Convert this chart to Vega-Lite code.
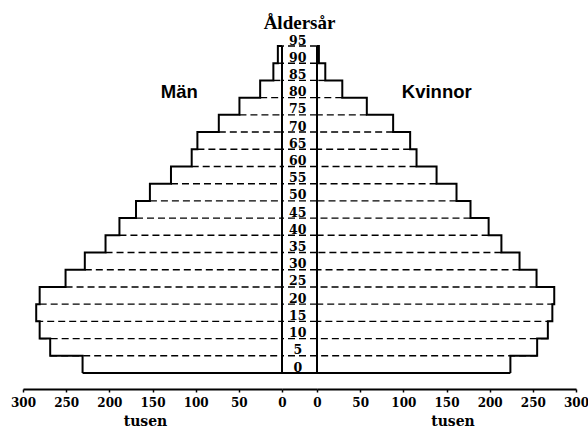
{
  "$schema": "https://vega.github.io/schema/vega-lite/v6.json",
  "padding": {"left": 10, "top": 13, "right": 2, "bottom": 2},
  "background": "white",
  "config": {"view": {"stroke": null}},
  "bounds": "flush",
  "spacing": 0,
  "datasets": {
    "pyramid": [
      {"age": 0, "man": 231, "kvinna": 224},
      {"age": 5, "man": 268.5, "kvinna": 255},
      {"age": 10, "man": 280.7, "kvinna": 267.4},
      {"age": 15, "man": 284.7, "kvinna": 272.6},
      {"age": 20, "man": 280.7, "kvinna": 274.8},
      {"age": 25, "man": 250.7, "kvinna": 254.3},
      {"age": 30, "man": 228.4, "kvinna": 234.6},
      {"age": 35, "man": 204.4, "kvinna": 213.6},
      {"age": 40, "man": 188.3, "kvinna": 198.8},
      {"age": 45, "man": 169.1, "kvinna": 177.8},
      {"age": 50, "man": 153, "kvinna": 161.6},
      {"age": 55, "man": 128.6, "kvinna": 138.5},
      {"age": 60, "man": 104.6, "kvinna": 115.3},
      {"age": 65, "man": 98, "kvinna": 107.9},
      {"age": 70, "man": 73.2, "kvinna": 88.2},
      {"age": 75, "man": 49.3, "kvinna": 57.7},
      {"age": 80, "man": 25.3, "kvinna": 29.3},
      {"age": 85, "man": 10, "kvinna": 9.6},
      {"age": 90, "man": 4.8, "kvinna": 2.2},
      {"age": 95, "man": 0, "kvinna": 0}
    ]
  },
  "hconcat": [
    {
      "width": 259,
      "height": 327,
      "layer": [
        {
          "data": {"name": "pyramid"},
          "transform": [{"filter": "datum.age > 0"}],
          "mark": {"type": "rule", "strokeDash": [7, 4], "strokeWidth": 1.4, "color": "black"},
          "encoding": {
            "y": {"field": "age", "type": "quantitative", "scale": {"domain": [0, 95], "nice": false}, "axis": null},
            "x": {"field": "man", "type": "quantitative", "scale": {"domain": [0, 300], "reverse": true, "nice": false},
              "axis": {"values": [0, 50, 100, 150, 200, 250, 300], "format": "d", "offset": 16, "tickSize": 3, "tickWidth": 1.5, "tickColor": "black",
                "domainColor": "black", "domainWidth": 2, "grid": false, "labelFlush": false, "labelOverlap": false,
                "labelFont": "DejaVu Serif", "labelFontWeight": "bold", "labelFontSize": 12, "labelColor": "black", "labelPadding": 5,
                "title": "tusen", "titleFont": "DejaVu Serif", "titleFontWeight": "bold", "titleFontSize": 14, "titleColor": "black", "titlePadding": 6, "titleX": 122}},
            "x2": {"datum": 0}
          }
        },
        {
          "data": {"name": "pyramid"},
          "transform": [{"filter": "datum.age == 0"}],
          "mark": {"type": "rule", "strokeWidth": 2, "color": "black"},
          "encoding": {
            "y": {"field": "age", "type": "quantitative"},
            "x": {"field": "man", "type": "quantitative"},
            "x2": {"datum": 0}
          }
        },
        {
          "data": {"name": "pyramid"},
          "mark": {"type": "line", "interpolate": "step-before", "strokeWidth": 2, "color": "black"},
          "encoding": {
            "x": {"field": "man", "type": "quantitative"},
            "y": {"field": "age", "type": "quantitative"},
            "order": {"field": "age", "type": "quantitative"}
          }
        },
        {
          "data": {"values": [{"a0": 0, "a1": 95}]},
          "mark": {"type": "rule", "strokeWidth": 2, "color": "black"},
          "encoding": {
            "x": {"datum": 0, "type": "quantitative"},
            "y": {"field": "a0", "type": "quantitative"},
            "y2": {"field": "a1"}
          }
        },
        {
          "data": {"values": [{"label": "Män", "x": 119, "age": 80}]},
          "mark": {"type": "text", "font": "Liberation Sans", "fontWeight": "bold", "fontSize": 18.5, "baseline": "alphabetic", "align": "center", "color": "black"},
          "encoding": {
            "x": {"field": "x", "type": "quantitative"},
            "y": {"field": "age", "type": "quantitative"},
            "text": {"field": "label"}
          }
        }
      ]
    },
    {
      "width": 35,
      "height": 327,
      "layer": [
        {
          "data": {"name": "pyramid"},
          "transform": [{"filter": "datum.age > 0"}],
          "mark": {"type": "rule", "strokeDash": [7, 4], "strokeWidth": 1.4, "color": "black"},
          "encoding": {
            "y": {"field": "age", "type": "quantitative", "scale": {"domain": [0, 95], "nice": false}, "axis": null}
          }
        },
        {
          "data": {"name": "pyramid"},
          "transform": [{"filter": "datum.age == 0"}],
          "mark": {"type": "rule", "strokeWidth": 2, "color": "black"},
          "encoding": {
            "y": {"field": "age", "type": "quantitative"}
          }
        },
        {
          "data": {"name": "pyramid"},
          "mark": {"type": "text", "font": "DejaVu Serif", "fontWeight": "bold", "fontSize": 12.5, "baseline": "alphabetic", "align": "center", "dy": -1.5, "color": "black"},
          "encoding": {
            "x": {"datum": 0.45, "type": "quantitative", "scale": {"domain": [0, 1], "nice": false},
              "axis": {"ticks": false, "labels": false, "title": null, "offset": 16, "domainColor": "black", "domainWidth": 2, "grid": false}},
            "y": {"field": "age", "type": "quantitative"},
            "text": {"field": "age", "type": "quantitative", "format": "d"}
          }
        },
        {
          "data": {"values": [{"label": "Åldersår", "age": 100}]},
          "mark": {"type": "text", "font": "Liberation Serif", "fontSize": 19, "fontWeight": "bold", "baseline": "alphabetic", "align": "center", "color": "black"},
          "encoding": {
            "x": {"datum": 0.5, "type": "quantitative"},
            "y": {"field": "age", "type": "quantitative"},
            "text": {"field": "label"}
          }
        }
      ]
    },
    {
      "width": 259,
      "height": 327,
      "layer": [
        {
          "data": {"name": "pyramid"},
          "transform": [{"filter": "datum.age > 0"}],
          "mark": {"type": "rule", "strokeDash": [7, 4], "strokeWidth": 1.4, "color": "black"},
          "encoding": {
            "y": {"field": "age", "type": "quantitative", "scale": {"domain": [0, 95], "nice": false}, "axis": null},
            "x": {"field": "kvinna", "type": "quantitative", "scale": {"domain": [0, 300], "nice": false},
              "axis": {"values": [0, 50, 100, 150, 200, 250, 300], "format": "d", "offset": 16, "tickSize": 3, "tickWidth": 1.5, "tickColor": "black",
                "domainColor": "black", "domainWidth": 2, "grid": false, "labelFlush": false, "labelOverlap": false,
                "labelFont": "DejaVu Serif", "labelFontWeight": "bold", "labelFontSize": 12, "labelColor": "black", "labelPadding": 5,
                "title": "tusen", "titleFont": "DejaVu Serif", "titleFontWeight": "bold", "titleFontSize": 14, "titleColor": "black", "titlePadding": 6, "titleX": 135.5}},
            "x2": {"datum": 0}
          }
        },
        {
          "data": {"name": "pyramid"},
          "transform": [{"filter": "datum.age == 0"}],
          "mark": {"type": "rule", "strokeWidth": 2, "color": "black"},
          "encoding": {
            "y": {"field": "age", "type": "quantitative"},
            "x": {"field": "kvinna", "type": "quantitative"},
            "x2": {"datum": 0}
          }
        },
        {
          "data": {"name": "pyramid"},
          "mark": {"type": "line", "interpolate": "step-before", "strokeWidth": 2, "color": "black"},
          "encoding": {
            "x": {"field": "kvinna", "type": "quantitative"},
            "y": {"field": "age", "type": "quantitative"},
            "order": {"field": "age", "type": "quantitative"}
          }
        },
        {
          "data": {"values": [{"a0": 0, "a1": 95}]},
          "mark": {"type": "rule", "strokeWidth": 2, "color": "black"},
          "encoding": {
            "x": {"datum": 0, "type": "quantitative"},
            "y": {"field": "a0", "type": "quantitative"},
            "y2": {"field": "a1"}
          }
        },
        {
          "data": {"values": [{"label": "Kvinnor", "x": 138.7, "age": 80}]},
          "mark": {"type": "text", "font": "Liberation Sans", "fontWeight": "bold", "fontSize": 18.5, "baseline": "alphabetic", "align": "center", "color": "black"},
          "encoding": {
            "x": {"field": "x", "type": "quantitative"},
            "y": {"field": "age", "type": "quantitative"},
            "text": {"field": "label"}
          }
        }
      ]
    }
  ]
}
